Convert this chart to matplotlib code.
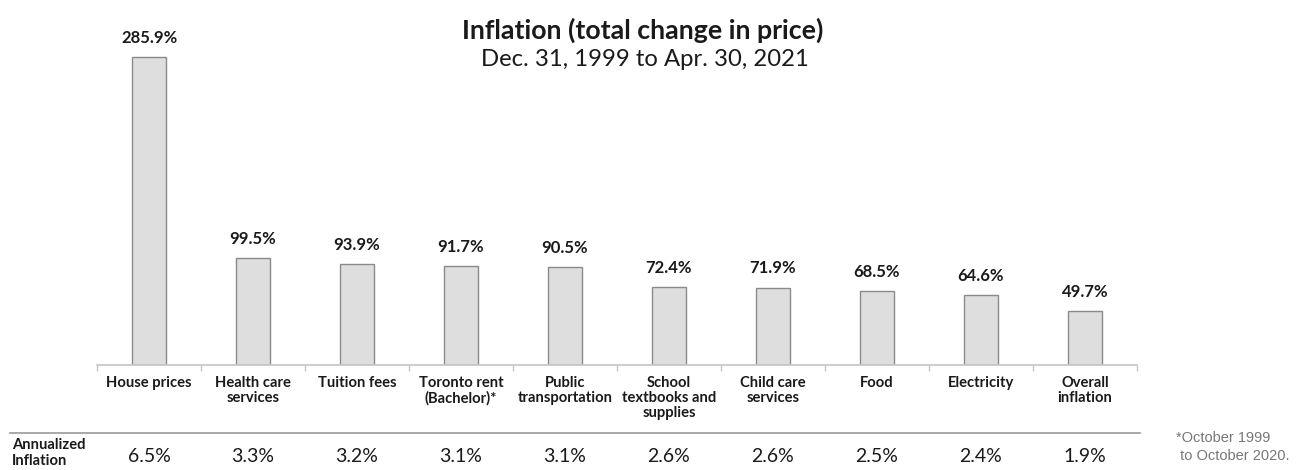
"""Bar chart of cumulative price change by category, Dec 1999 - Apr 2021."""

import matplotlib

matplotlib.use("Agg")
import matplotlib.pyplot as plt
import matplotlib.transforms as mtransforms

CATEGORIES = [
    "House prices",
    "Health care\nservices",
    "Tuition fees",
    "Toronto rent\n(Bachelor)*",
    "Public\ntransportation",
    "School\ntextbooks and\nsupplies",
    "Child care\nservices",
    "Food",
    "Electricity",
    "Overall\ninflation",
]
TOTAL_CHANGE = [285.9, 99.5, 93.9, 91.7, 90.5, 72.4, 71.9, 68.5, 64.6, 49.7]
ANNUALIZED = [6.5, 3.3, 3.2, 3.1, 3.1, 2.6, 2.6, 2.5, 2.4, 1.9]

W, H = 1296, 470
plt.rcParams["font.family"] = ["Lato", "DejaVu Sans"]

fig = plt.figure(figsize=(W / 100, H / 100), dpi=100)
# axes spans x 97..1137 px, y 20..365 px
ax = fig.add_axes([97 / W, (H - 365) / H, 1040 / W, 345 / H])

x = list(range(len(CATEGORIES)))
ax.bar(x, TOTAL_CHANGE, width=0.33, color="#dedede", edgecolor="#8a8a8a", linewidth=1.0, zorder=2)
for xi, v in zip(x, TOTAL_CHANGE):
    ax.annotate(f"{v:.1f}%", (xi, v), xytext=(0, 8), textcoords="offset points",
                ha="center", va="bottom", fontsize=12, fontweight="bold", color="#1a1a1a")

ax.set_xlim(-0.5, len(CATEGORIES) - 0.5)
ax.set_ylim(0, 320.2)
for side in ("top", "right", "left"):
    ax.spines[side].set_visible(False)
ax.spines["bottom"].set_color("#c4c4c4")
ax.spines["bottom"].set_linewidth(1.2)
ax.set_yticks([])
ax.set_xticks([i - 0.5 for i in range(len(CATEGORIES) + 1)])
ax.set_xticklabels([])
ax.tick_params(axis="x", direction="out", length=4, width=1, color="#c4c4c4")

# category names and the annualized row, placed in data x / pixel y
px = mtransforms.blended_transform_factory(ax.transData, fig.transFigure)
for xi, name in zip(x, CATEGORIES):
    ax.text(xi, 1 - 376 / H, name, transform=px, ha="center", va="top", fontsize=10.6,
            fontweight="bold", color="#1a1a1a", linespacing=1.1)
    ax.text(xi, 1 - 457 / H, f"{ANNUALIZED[xi]:.1f}%", transform=px, ha="center", va="center",
            fontsize=14, color="#1a1a1a")

fig.add_artist(plt.Line2D([10 / W, 1140 / W], [1 - 433 / H, 1 - 433 / H], transform=fig.transFigure,
                          color="#9a9a9a", linewidth=1.2))
fig.text(12 / W, 1 - 453 / H, "Annualized\nInflation", ha="left", va="center", fontsize=10.6,
         fontweight="bold", color="#1a1a1a", linespacing=1.25)

fig.text(1176 / W, 1 - 447 / H, "*October 1999\n to October 2020.", ha="left", va="center",
         fontsize=10.5, color="#777777", family="Liberation Sans", linespacing=1.4)

fig.text(643 / W, 1 - 30 / H, "Inflation (total change in price)", ha="center", va="center",
         fontsize=19.3, fontweight="bold", color="#1a1a1a")
fig.text(645 / W, 1 - 60 / H, "Dec. 31, 1999 to Apr. 30, 2021", ha="center", va="center",
         fontsize=17.2, color="#1a1a1a")

fig.savefig("out.png", dpi=100)
